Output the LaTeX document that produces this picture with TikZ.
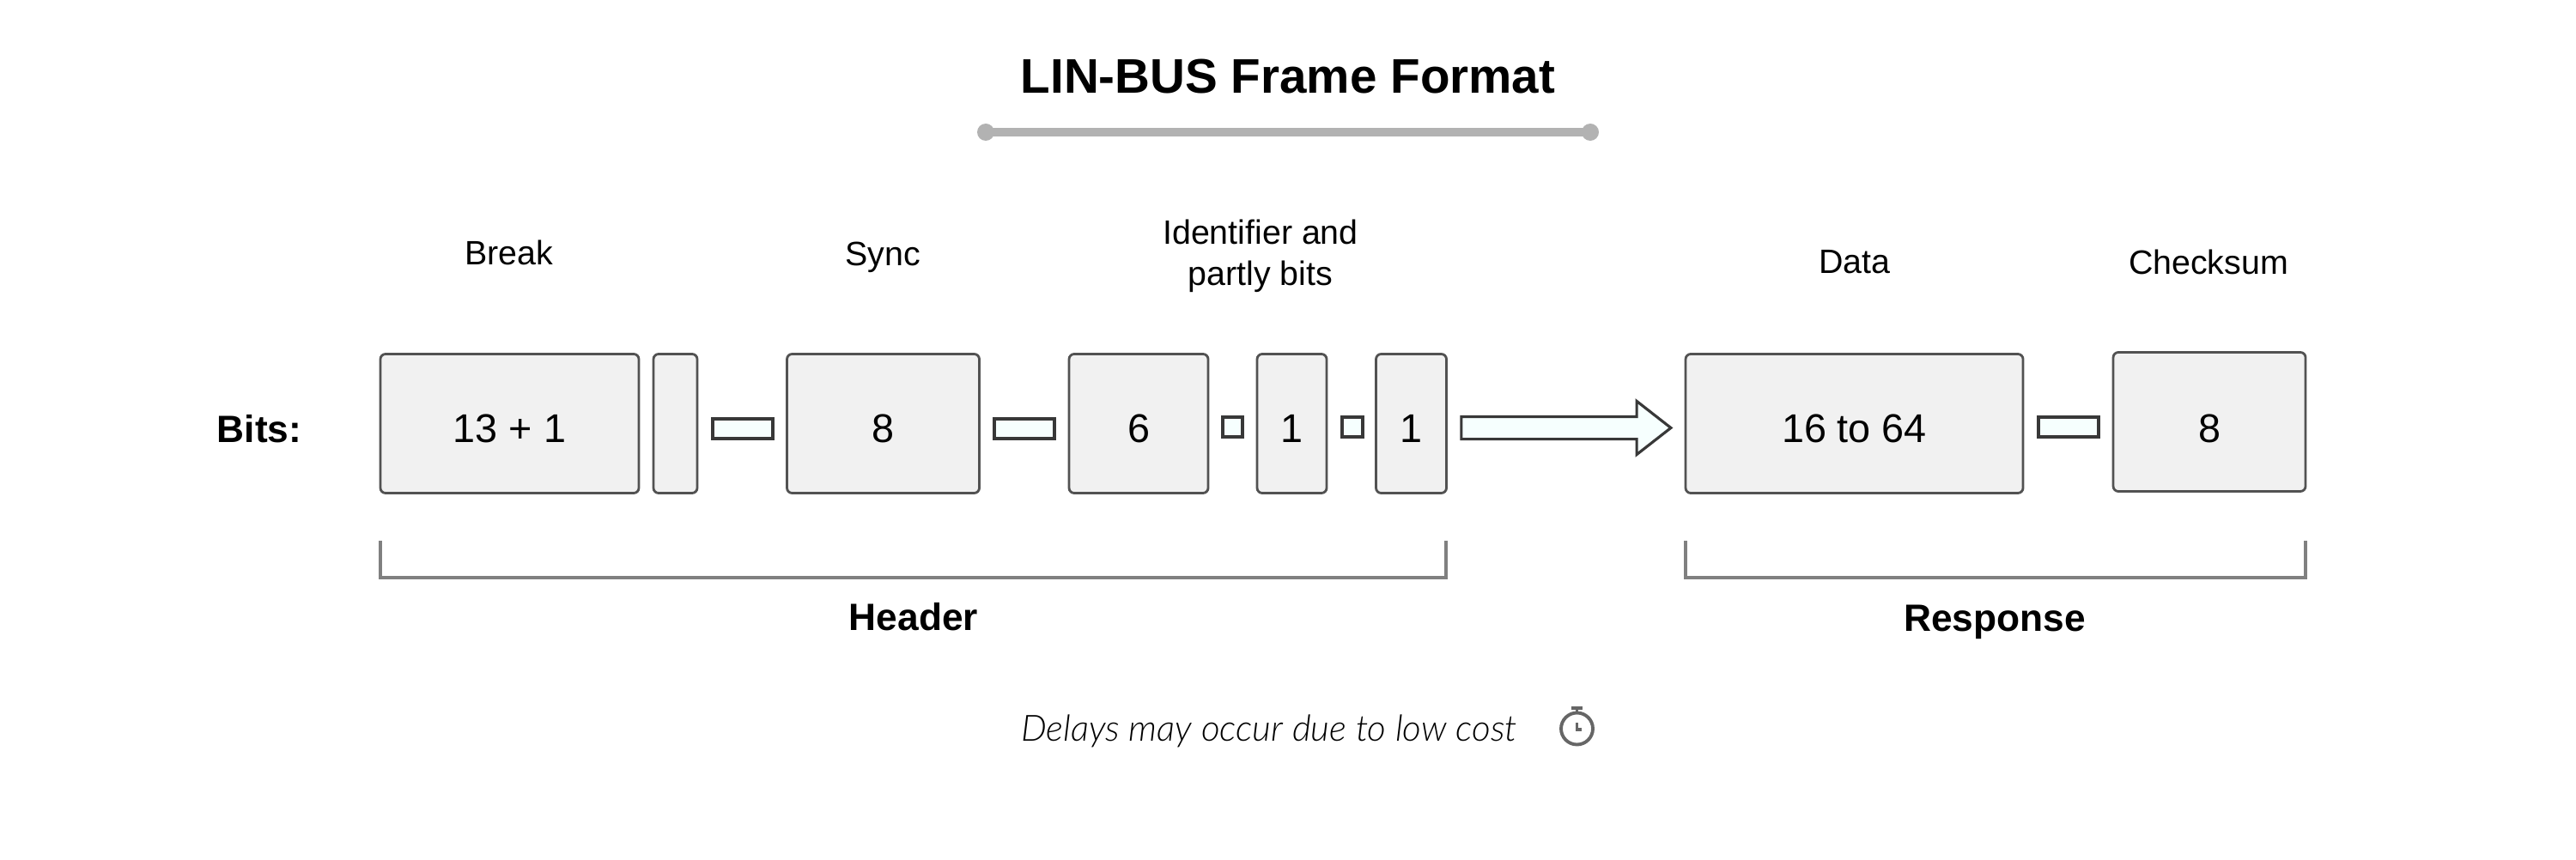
\documentclass[tikz,border=0pt]{standalone}
\usepackage{fontspec}
\setmainfont{Liberation Sans}
\newfontfamily\notefont[UprightFont=* Light, ItalicFont=* Light Italic]{Lato}
\usetikzlibrary{shapes.arrows,positioning}
\definecolor{boxfill}{HTML}{F1F1F1}
\definecolor{gapfill}{HTML}{F6FFFE}
\begin{document}
\begin{tikzpicture}[
  bitbox/.style={rectangle, rounded corners=0.06cm, draw=black!68, line width=0.8pt, fill=boxfill, inner sep=0pt, minimum height=1.62cm, text height=0.44cm, text depth=0pt, font=\fontsize{13.3}{16}\selectfont},
  gapbox/.style={rectangle, draw=black!78, line width=0.9pt, fill=gapfill, inner sep=0pt, minimum height=0.23cm},
  field label/.style={align=center, font=\fontsize{11.2}{13.6}\selectfont},
  group label/.style={font=\fontsize{12.6}{15}\bfseries\selectfont},
  bracket/.style={draw=black!50, line width=0.9pt},
  knob/.style={circle, fill=black!30, inner sep=0pt, minimum size=0.2cm},
  watch/.style={draw=black!60, line width=1.1pt}
]
  \useasboundingbox (0,0) rectangle (30,10.01);
  \node[font=\fontsize{16.1}{20}\bfseries\selectfont] (Title) at (15,9.12) {LIN-BUS Frame Format};
  \node[knob] (KnobL) at (11.48,8.47) {};
  \node[knob] (KnobR) at (18.52,8.47) {};
  \draw[black!30, line width=2.8pt] (KnobL.center) -- (KnobR.center);
  % Field names over the boxes
  \node[field label] (BreakName) at (5.93,7.07) {Break};
  \node[field label] (SyncName) at (10.28,7.01) {Sync};
  \node[field label] (IdName) at (14.68,7.03) {Identifier and\\partly bits};
  \node[field label] (DataName) at (21.60,6.96) {Data};
  \node[field label] (SumName) at (25.72,6.96) {Checksum};
  \node[group label] (Bits) at (3.02,5.01) {Bits:};
  % Bit boxes and the gaps between them
  \node[bitbox, minimum width=3.01cm] (Break) at (5.935,5.075) {13 + 1};
  \node[bitbox, minimum width=0.51cm] (Delim) at (7.865,5.075) {};
  \node[gapbox, minimum width=0.70cm] (GapA) at (8.65,5.015) {};
  \node[bitbox, minimum width=2.24cm] (Sync) at (10.285,5.075) {8};
  \node[gapbox, minimum width=0.70cm] (GapB) at (11.93,5.015) {};
  \node[bitbox, minimum width=1.62cm] (Id) at (13.26,5.075) {6};
  \node[gapbox, minimum width=0.23cm] (GapC) at (14.355,5.035) {};
  \node[bitbox, minimum width=0.81cm] (BitA) at (15.045,5.075) {1};
  \node[gapbox, minimum width=0.24cm] (GapD) at (15.75,5.035) {};
  \node[bitbox, minimum width=0.82cm] (BitB) at (16.435,5.075) {1};
  \node[single arrow, draw=black!78, line width=0.9pt, fill=gapfill, inner xsep=0pt, inner ysep=0.115cm, minimum height=2.44cm, single arrow head extend=0.18cm, single arrow tip angle=76, single arrow head indent=0pt] (Go) at (18.155,5.025) {};
  \node[bitbox, minimum width=3.93cm] (Data) at (21.595,5.075) {16 to 64};
  \node[gapbox, minimum width=0.70cm] (GapE) at (24.09,5.035) {};
  \node[bitbox, minimum width=2.24cm, text height=0.48cm] (Sum) at (25.73,5.095) {8};
  % Brackets under the two groups
  \coordinate (HeadL) at (4.43,3.71);
  \coordinate (HeadR) at (16.84,3.71);
  \coordinate (RespL) at (19.63,3.71);
  \coordinate (RespR) at (26.85,3.71);
  \draw[bracket] (HeadL) -- ++(0,-0.43) -| (HeadR);
  \draw[bracket] (RespL) -- ++(0,-0.43) -| (RespR);
  \node[group label] (Header) at (10.64,2.82) {Header};
  \node[group label] (Response) at (23.23,2.765) {Response};
  \node[font=\notefont\itshape\fontsize{12}{14}\selectfont] (Note) at (14.78,1.49) {Delays may occur due to low cost};
  % Stopwatch
  \node[circle, watch, inner sep=0pt, minimum size=0.37cm] (Dial) at (18.365,1.52) {};
  \coordinate (Crown) at (18.365,1.76);
  \draw[watch] (Crown) -- (Dial.north);
  \draw[watch] (18.30,1.76) -- (18.43,1.76);
  \draw[watch] (Dial.center) ++(0,0.07) -- ++(0,-0.08) -- ++(0.05,0);
\end{tikzpicture}
\end{document}
